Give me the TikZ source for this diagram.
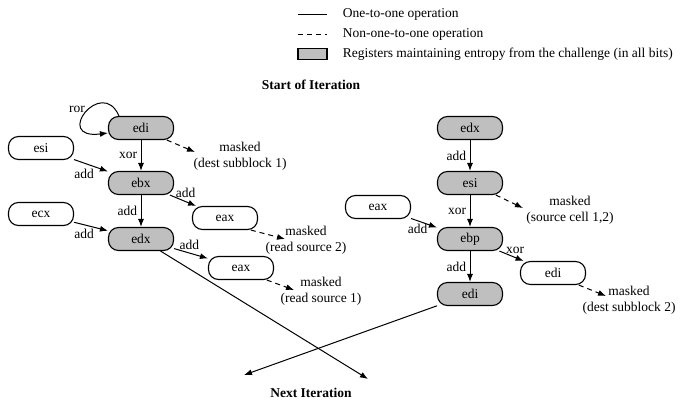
\documentclass[tikz,border=0pt]{standalone}
\usepackage{fontspec}
\setmainfont{Liberation Serif}
\usetikzlibrary{arrows.meta}

\begin{document}
\begin{tikzpicture}
    [
        x=1pt, y=-1pt, line width=1pt,
        font=\fontsize{13.5}{15.5}\selectfont,
        reg_style/.style={draw=black, line width=1.1pt, rounded corners=10pt,
            minimum width=65pt, minimum height=23pt, inner sep=0pt},
        ent_style/.style={reg_style, fill=black!25},
        op_style/.style={-{Latex[length=8pt,width=6pt]}},
        mask_style/.style={op_style, dashed, dash pattern=on 5pt off 4pt},
        lbl_style/.style={align=center, inner sep=1pt},
        title_style/.style={font=\fontsize{13.5}{15.5}\selectfont\bfseries}
    ]
        \useasboundingbox (0,0) rectangle (680,402);

        % legend
        \coordinate (k1a) at (298,14);
        \coordinate (k1b) at (327,14);
        \coordinate (k2a) at (298,34);
        \coordinate (k2b) at (327,34);
        \node[draw=black, line width=1.1pt, fill=black!25, minimum width=29pt,
            minimum height=11pt, inner sep=0pt] (k3) at (312.5,54) {};
        \draw (k1a) -- (k1b);
        \draw[dashed, dash pattern=on 5pt off 4pt] (k2a) -- (k2b);
        \node[anchor=west] (t1) at (339,14) {One-to-one operation};
        \node[anchor=west] (t2) at (339,34) {Non-one-to-one operation};
        \node[anchor=west] (t3) at (339,54) {Registers maintaining entropy from the challenge (in all bits)};

        \node[title_style] (start) at (311,85) {Start of Iteration};
        \node[title_style] (next) at (311,393) {Next Iteration};

        % first half
        \node[ent_style] (edi1) at (141,128) {edi};
        \node[reg_style] (esi1) at (41,148) {esi};
        \node[ent_style] (ebx1) at (141,183) {ebx};
        \node[reg_style] (ecx1) at (41,214) {ecx};
        \node[ent_style] (edx1) at (141,239) {edx};
        \node[reg_style] (eax1) at (225,218) {eax};
        \node[reg_style] (eax2) at (241,268) {eax};
        \node[lbl_style] (m1) at (240,156) {masked\\(dest subblock 1)};
        \node[lbl_style] (m2) at (306,240) {masked\\(read source 2)};
        \node[lbl_style] (m3) at (321,291) {masked\\(read source 1)};
        \coordinate (m1tip) at (195,152);
        \coordinate (m2tip) at (285,239);
        \coordinate (m3tip) at (294,290);

        \draw[op_style] ([xshift=11pt]edi1.north west) .. controls (102,76) and (52,140) .. ([yshift=-5pt]edi1.west)
            node[pos=0.45, left] {ror};
        \draw[op_style] (edi1) -- node[left] {xor} (ebx1);
        \draw[op_style] (esi1) -- node[pos=0.3, below=2pt] {add} (ebx1);
        \draw[op_style] (ebx1) -- node[left] {add} (edx1);
        \draw[op_style] (ecx1) -- node[pos=0.3, below] {add} (edx1);
        \draw[op_style] (ebx1) -- node[pos=0.6, above] {add} (eax1);
        \draw[op_style] (edx1) -- node[pos=0.45, above] {add} (eax2);
        \draw[mask_style] (edi1.-25) -- (m1tip);
        \draw[mask_style] (eax1.-25) -- (m2tip);
        \draw[mask_style] (eax2.-25) -- (m3tip);

        % second half
        \node[ent_style] (edx2) at (470,128) {edx};
        \node[ent_style] (esi2) at (470,183) {esi};
        \node[reg_style] (eax3) at (378,207) {eax};
        \node[ent_style] (ebp2) at (470,239) {ebp};
        \node[ent_style] (edi2) at (470,294) {edi};
        \node[reg_style] (edi3) at (553,273) {edi};
        \node[lbl_style] (m4) at (570,210) {masked\\(source cell 1,2)};
        \node[lbl_style] (m5) at (629,300) {masked\\(dest subblock 2)};
        \coordinate (m4tip) at (523,208);
        \coordinate (m5tip) at (606,296);

        \draw[op_style] (edx2) -- node[left] {add} (esi2);
        \draw[op_style] (esi2) -- node[left] {xor} (ebp2);
        \draw[op_style] (eax3) -- node[pos=0.25, below] {add} (ebp2);
        \draw[op_style] (ebp2) -- node[left] {add} (edi2);
        \draw[op_style] (ebp2) -- node[pos=0.65, above] {xor} (edi3);
        \draw[mask_style] (esi2.-25) -- (m4tip);
        \draw[mask_style] (edi3.-25) -- (m5tip);

        % to the next iteration
        \coordinate (n1) at (244,375);
        \coordinate (n2) at (368,379);
        \draw[op_style] (edx1) -- (n2);
        \draw[op_style] (edi2) -- (n1);
\end{tikzpicture}
\end{document}
